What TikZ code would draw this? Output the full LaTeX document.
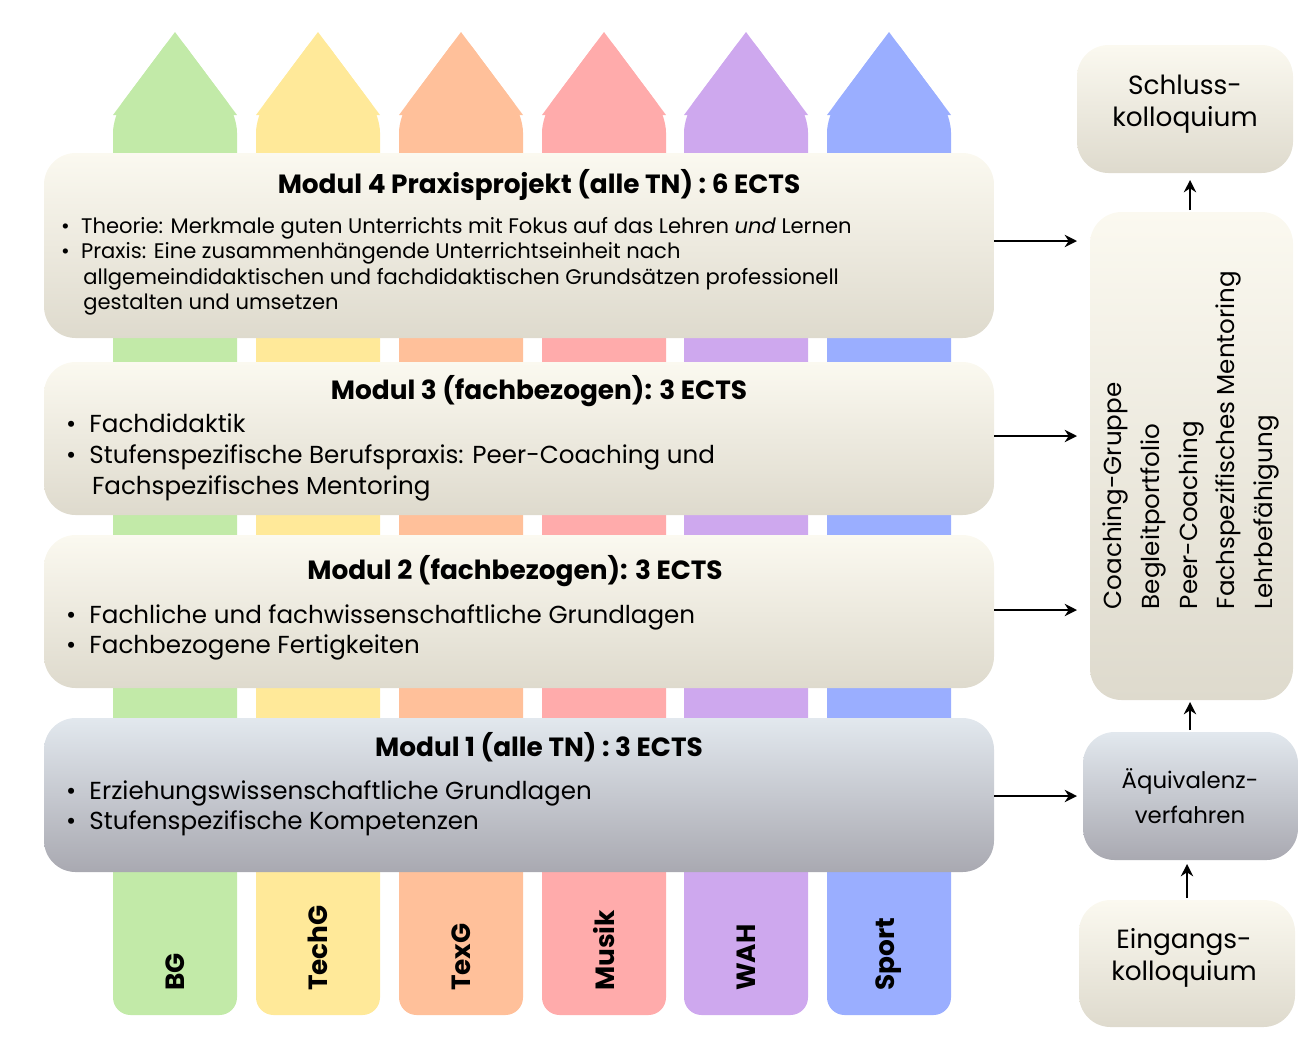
\documentclass[tikz,border=0pt]{standalone}
\usepackage{fontspec}
\setmainfont{Poppins}
\usetikzlibrary{arrows.meta}
\usetikzlibrary{positioning}
\definecolor{cBG}{HTML}{C2EAA8}
\definecolor{cTechG}{HTML}{FFE999}
\definecolor{cTexG}{HTML}{FFC09A}
\definecolor{cMusik}{HTML}{FFABAB}
\definecolor{cWAH}{HTML}{CEA8EE}
\definecolor{cSport}{HTML}{9AAEFF}
\definecolor{creamtop}{HTML}{FBF9F0}
\definecolor{creambot}{HTML}{DEDACD}
\definecolor{greytop}{HTML}{E2E8EE}
\definecolor{greybot}{HTML}{A9A9B1}
\begin{document}
\begin{tikzpicture}[
    x=0.02cm, y=-0.02cm,
    >=Stealth,
    modul/.style={rounded corners=18pt, top color=creamtop, bottom color=creambot},
    grey/.style={rounded corners=18pt, top color=greytop, bottom color=greybot},
    arr/.style={line width=1.6pt, -{Stealth[length=7pt,width=7pt]}},
    fachlabel/.style={rotate=90, anchor=west, font=\bfseries\fontsize{15}{18}\selectfont},
    every node/.style={align=left}
]
\useasboundingbox (0,0) rectangle (1314,1042);

% Faecher
\foreach \x/\c/\t in {113/cBG/BG, 256/cTechG/TechG, 399/cTexG/TexG, 542/cMusik/Musik, 684/cWAH/WAH, 827/cSport/Sport}{
  \fill[\c, rounded corners=10pt] (\x,1015) -- (\x,115) -- (\x+62,32) -- (\x+124,115) -- (\x+124,1015) -- cycle;
  \fill[\c] (\x,115) -- (\x+62,32) -- (\x+124,115) -- cycle;
  \node[fachlabel] (lab\t) at (\x+62,997) {\t};
}

% Module
\shade[modul] (44,153) rectangle (994,338);
\shade[modul] (44,362) rectangle (994,515);
\shade[modul] (44,535) rectangle (994,688);
\shade[grey] (44,718) rectangle (994,872);
\coordinate (m4) at (994,241);
\coordinate (m3) at (994,436);
\coordinate (m2) at (994,610);
\coordinate (m1) at (994,796);

\node[font=\bfseries\fontsize{15}{18}\selectfont, align=center] (t4) at (539,185) {Modul 4 Praxisprojekt (alle TN) : 6 ECTS};
\node[anchor=north west, font=\fontsize{12}{14.5}\selectfont] (b4) at (55,211) {%
  \textbullet\ \ Theorie: Merkmale guten Unterrichts mit Fokus auf das Lehren \emph{und} Lernen\\
  \textbullet\ \ Praxis: Eine zusammenhängende Unterrichtseinheit nach\\
  \hspace*{1.05em}allgemeindidaktischen und fachdidaktischen Grundsätzen professionell\\
  \hspace*{1.05em}gestalten und umsetzen};

\node[font=\bfseries\fontsize{15}{18}\selectfont, align=center] (t3) at (539,391) {Modul 3 (fachbezogen): 3 ECTS};
\node[anchor=north west, font=\fontsize{14}{17.5}\selectfont] (b3) at (60,408) {%
  \textbullet\ \ Fachdidaktik\\
  \textbullet\ \ Stufenspezifische Berufspraxis: Peer-Coaching und\\
  \hspace*{1.05em}Fachspezifisches Mentoring};

\node[font=\bfseries\fontsize{15}{18}\selectfont, align=center] (t2) at (515,571) {Modul 2 (fachbezogen): 3 ECTS};
\node[anchor=north west, font=\fontsize{14}{17.5}\selectfont] (b2) at (60,598) {%
  \textbullet\ \ Fachliche und fachwissenschaftliche Grundlagen\\
  \textbullet\ \ Fachbezogene Fertigkeiten};

\node[font=\bfseries\fontsize{15}{18}\selectfont, align=center] (t1) at (539,747) {Modul 1 (alle TN) : 3 ECTS};
\node[anchor=north west, font=\fontsize{14}{17.5}\selectfont] (b1) at (60,774) {%
  \textbullet\ \ Erziehungswissenschaftliche Grundlagen\\
  \textbullet\ \ Stufenspezifische Kompetenzen};

% rechte Spalte
\shade[modul] (1077,45) rectangle (1293,173);
\node[align=center, font=\fontsize{15}{18}\selectfont] (schluss) at (1185,104) {Schluss-\\kolloquium};
\shade[modul] (1090,212) rectangle (1293,700);
\node[rotate=90, align=left, font=\fontsize{14}{21.5}\selectfont] (begleit) at (1191,440) {%
  Coaching-Gruppe\\Begleitportfolio\\Peer-Coaching\\Fachspezifisches Mentoring\\Lehrbefähigung};
\shade[grey] (1083,732) rectangle (1298,860);
\node[align=center, font=\fontsize{13}{20}\selectfont] (aequi) at (1190,796) {Äquivalenz-\\verfahren};
\shade[modul] (1079,900) rectangle (1295,1027);
\node[align=center, font=\fontsize{15}{18}\selectfont] (eingang) at (1184,958) {Eingangs-\\kolloquium};

\coordinate (r4) at (1077,241);
\coordinate (r3) at (1077,436);
\coordinate (r2) at (1077,610);
\coordinate (r1) at (1077,796);
\coordinate (s0) at (1190,210);
\coordinate (s1) at (1190,180);
\coordinate (q0) at (1190,730);
\coordinate (q1) at (1190,702);
\coordinate (e0) at (1187,898);
\coordinate (e1) at (1187,864);

% Pfeile
\draw[arr] (m4) -- (r4);
\draw[arr] (m3) -- (r3);
\draw[arr] (m2) -- (r2);
\draw[arr] (m1) -- (r1);
\draw[arr] (s0) -- (s1);
\draw[arr] (q0) -- (q1);
\draw[arr] (e0) -- (e1);
\end{tikzpicture}
\end{document}
